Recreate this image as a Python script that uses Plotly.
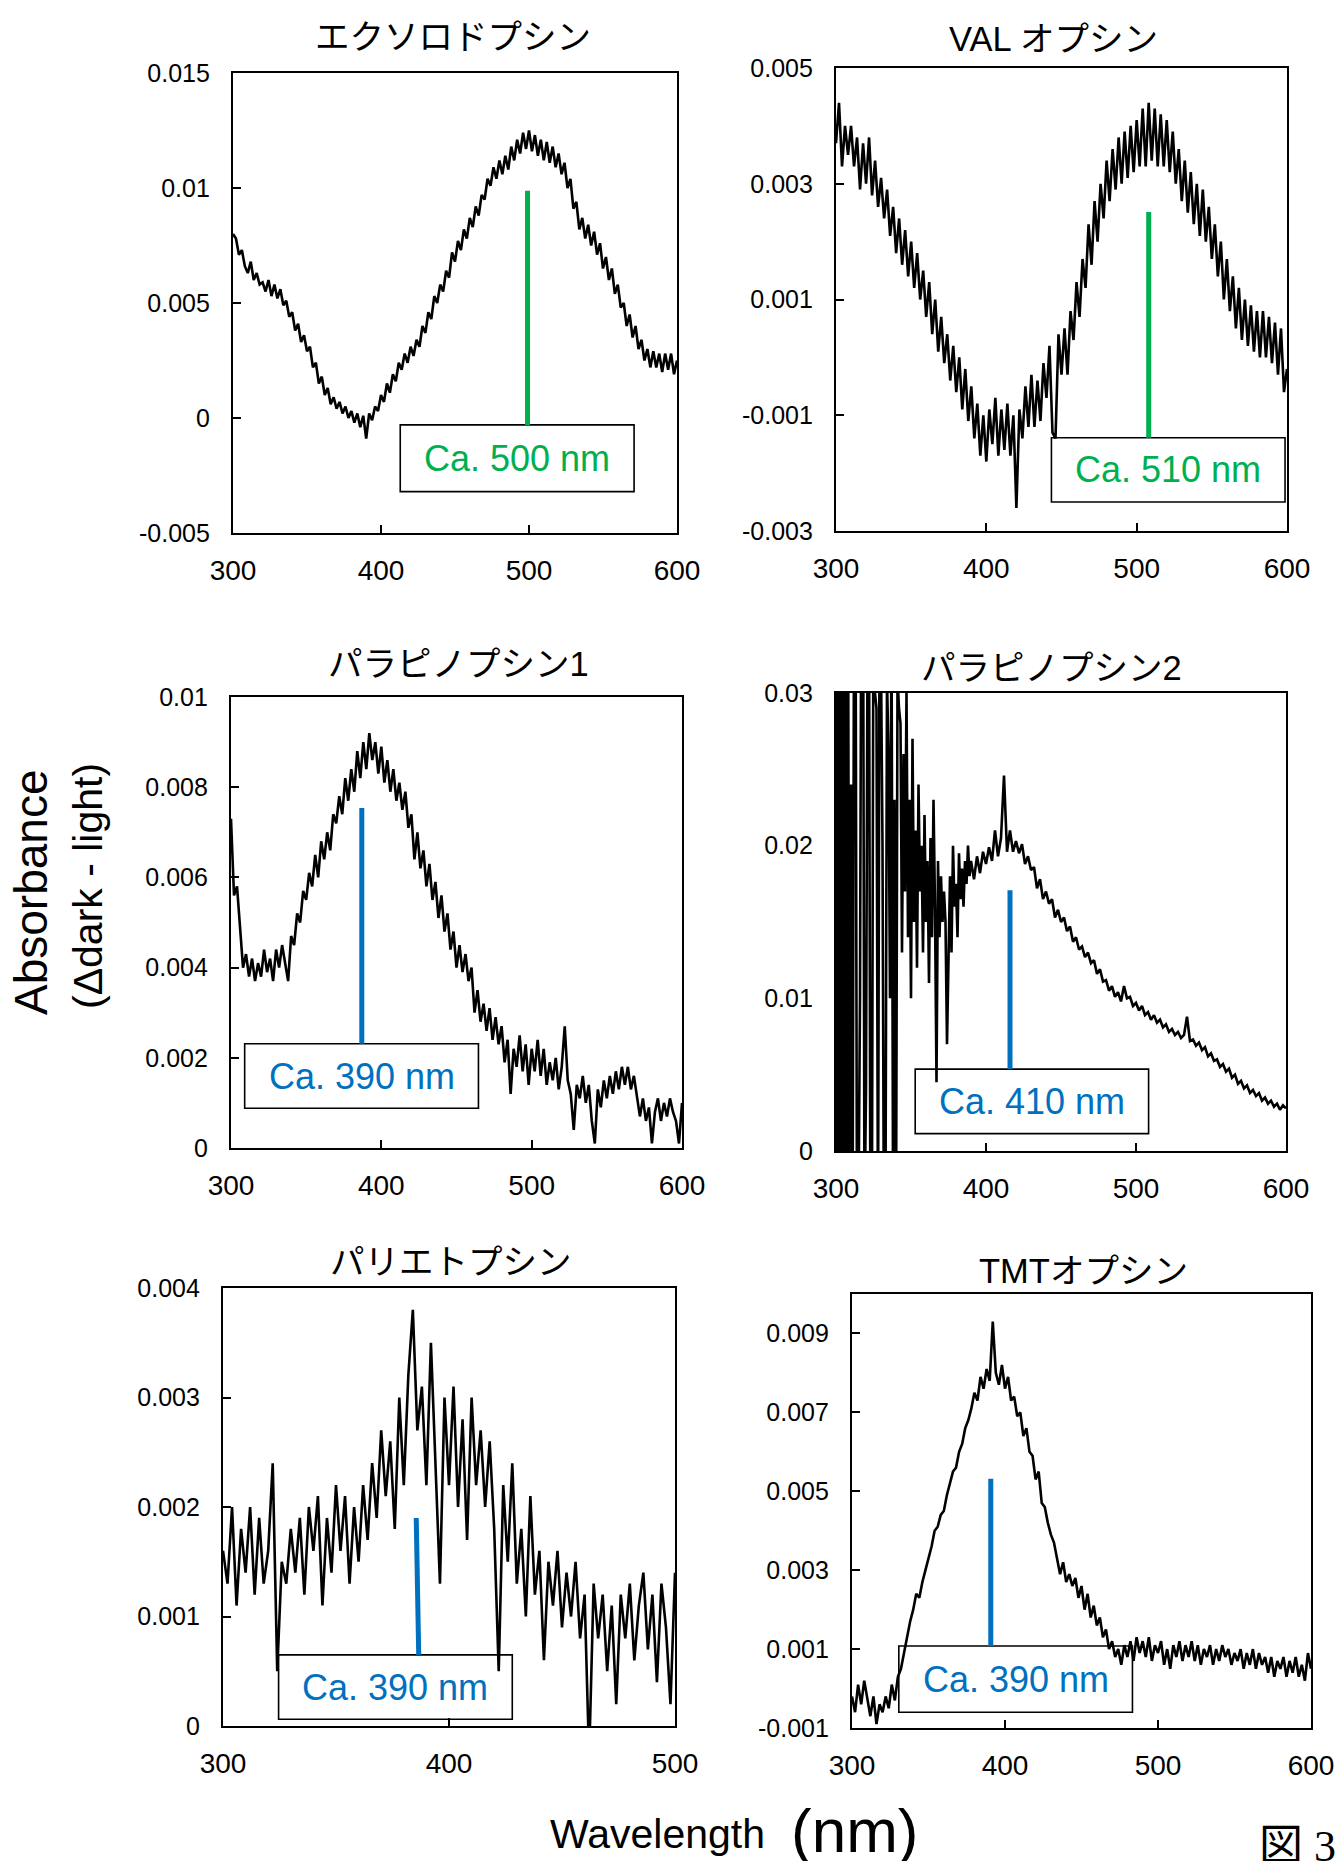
import plotly.graph_objects as go

FIG_W, FIG_H = 1338, 1861
ABS_UNIT = 1e-4  # absorbance values below are given in units of 1e-4

# ---------------- data ----------------
wl_2nm = list(range(300, 601, 2))
wl_para2 = list(range(300, 390)) + list(range(390, 601, 2))
wl_pariet = list(range(300, 501, 2))

exo = [80, 78, 71, 73, 66, 63, 68, 60, 63, 58,
       59, 55, 60, 53, 58, 52, 56, 49, 51, 44,
       46, 38, 41, 33, 36, 29, 31, 22, 24, 15,
       18, 10, 13, 6, 9, 4, 7, 2, 5, 0,
       3, -2, 2, -4, 1, -9, 2, -1, 5, 3,
       10, 7, 15, 11, 19, 16, 24, 21, 28, 24,
       31, 27, 34, 31, 40, 37, 46, 43, 53, 50,
       58, 55, 64, 61, 72, 68, 77, 73, 82, 78,
       87, 83, 92, 88, 97, 95, 104, 101, 109, 104,
       112, 106, 114, 108, 118, 112, 121, 115, 124, 117,
       125, 116, 123, 114, 121, 112, 120, 111, 118, 109,
       115, 106, 111, 100, 104, 91, 94, 82, 87, 78,
       84, 75, 81, 71, 76, 65, 70, 60, 65, 54,
       58, 48, 50, 40, 45, 35, 40, 30, 34, 25,
       30, 22, 29, 22, 28, 20, 28, 21, 28, 19,
       25]

val = [37, 44, 33, 40, 35, 40, 33, 38, 29, 37,
       30, 38, 28, 34, 26, 31, 24, 29, 21, 26,
       18, 24, 16, 22, 14, 20, 12, 18, 10, 15,
       7, 13, 4, 10, 1, 7, -1, 4, -4, 2,
       -6, 0, -9, -2, -11, -5, -14, -8, -17, -10,
       -18, -9, -15, -7, -17, -9, -16, -8, -17, -10,
       -26, -9, -14, -5, -12, -3, -12, -4, -11, -1,
       -7, 2, -13, -14, 4, -3, 5, -3, 8, 3,
       13, 7, 17, 12, 23, 16, 27, 20, 30, 24,
       34, 27, 36, 29, 38, 30, 39, 31, 40, 32,
       41, 33, 43, 33, 44, 34, 43, 33, 42, 33,
       41, 32, 39, 30, 36, 27, 34, 25, 32, 23,
       30, 21, 29, 20, 26, 17, 23, 14, 20, 10,
       17, 8, 14, 5, 12, 3, 10, 2, 9, 1,
       8, 0, 8, 0, 7, -1, 6, -3, 5, -6,
       -2]

para1 = [73, 56, 58, 50, 40, 43, 38, 42, 37, 41,
         38, 44, 39, 42, 37, 44, 40, 45, 41, 37,
         47, 45, 52, 50, 57, 55, 61, 58, 65, 60,
         68, 64, 70, 66, 74, 72, 78, 74, 82, 77,
         84, 79, 88, 82, 90, 84, 92, 86, 90, 83,
         89, 81, 86, 79, 84, 77, 81, 75, 79, 71,
         74, 64, 70, 62, 66, 58, 63, 55, 59, 51,
         56, 48, 52, 44, 48, 40, 45, 39, 43, 37,
         40, 30, 35, 28, 32, 26, 31, 24, 29, 23,
         27, 19, 24, 12, 22, 18, 25, 17, 23, 14,
         22, 17, 24, 16, 22, 14, 19, 15, 20, 13,
         18, 27, 15, 12, 4, 14, 11, 16, 10, 14,
         6, 1, 13, 9, 15, 11, 16, 12, 17, 13,
         18, 14, 18, 13, 16, 12, 7, 11, 6, 9,
         1, 8, 11, 6, 10, 7, 11, 8, 6, 1,
         10]

para2 = [500, -150, 450, -200, 480, -120, 520, -180, 400, -100,
         240, -80, 350, 380, -60, -40, 100, 420, 400, -50,
         40, 330, 360, -90, -20, 380, 300, 290, -60, 340,
         320, 200, -70, -30, 310, 260, 100, 350, -20, 230,
         -60, 310, 290, 280, 130, 260, 170, 300, 140, 230,
         100, 270, 150, 210, 120, 240, 170, 200, 130, 220,
         150, 190, 110, 205, 140, 230, 160, 45, 190, 140,
         180, 150, 170, 150, 70, 140, 180, 130, 200, 160,
         175, 140, 195, 165, 185, 160, 190, 175, 200, 180,
         190, 178, 193, 182, 196, 188, 199, 190, 210, 193,
         205, 246, 196, 210, 196, 203, 195, 201, 188, 193,
         184, 186, 172, 178, 165, 170, 162, 165, 153, 158,
         150, 153, 144, 147, 137, 140, 132, 134, 127, 130,
         123, 125, 116, 119, 111, 112, 105, 108, 101, 104,
         98, 108, 100, 101, 95, 97, 92, 95, 89, 91,
         86, 89, 84, 86, 81, 83, 78, 80, 76, 78,
         74, 76, 88, 72, 73, 69, 71, 66, 68, 62,
         64, 59, 60, 55, 57, 52, 54, 48, 50, 44,
         46, 41, 43, 38, 40, 36, 38, 33, 35, 31,
         33, 29, 31, 27, 30,
         28]

pariet = [16, 13, 20, 11, 18, 14, 20, 12, 19, 13,
          16, 24, 5, 15, 13, 18, 14, 19, 12, 20,
          16, 21, 11, 19, 14, 22, 16, 21, 13, 20,
          15, 22, 17, 24, 19, 27, 21, 26, 18, 30,
          22, 32, 38, 27, 31, 22, 35, 24, 13, 30,
          22, 31, 20, 28, 17, 30, 22, 27, 20, 26,
          18, 5, 22, 15, 24, 13, 18, 10, 21, 12,
          16, 6, 15, 11, 16, 9, 14, 10, 15, 8,
          12, -3, 13, 8, 12, 5, 11, 2, 12, 8,
          13, 6, 11, 14, 7, 12, 4, 13, 9, 2,
          14]

tmt = [-2, -6, 1, -4, 2, -3, -7, -2, -9, -4,
       -6, -2, -5, 1, -3, 3, 5, 9, 13, 17,
       20, 24, 23, 27, 30, 33, 36, 40, 41, 44,
       45, 49, 52, 55, 56, 60, 62, 66, 68, 71,
       75, 73, 79, 76, 81, 78, 93, 80, 77, 82,
       76, 79, 73, 74, 69, 70, 64, 66, 60, 59,
       53, 55, 47, 46, 42, 39, 37, 33, 29, 32,
       27, 29, 26, 28, 23, 26, 20, 24, 18, 21,
       16, 18, 13, 15, 10, 12, 8, 10, 6, 11,
       8, 12, 7, 13, 9, 12, 8, 13, 7, 11,
       9, 12, 6, 10, 5, 11, 8, 12, 7, 11,
       8, 12, 7, 11, 6, 10, 8, 11, 6, 10,
       7, 11, 8, 10, 6, 9, 7, 10, 5, 9,
       6, 10, 5, 9, 6, 8, 4, 8, 3, 7,
       5, 8, 3, 7, 4, 8, 3, 6, 2, 9,
       5]

titles = ["エクソロドプシン", "VAL オプシン", "パラピノプシン1",
          "パラピノプシン2", "パリエトプシン", "TMTオプシン"]
peak_labels = ["Ca. 500 nm", "Ca. 510 nm", "Ca. 390 nm",
               "Ca. 410 nm", "Ca. 390 nm", "Ca. 390 nm"]
# peak marker lines: wavelength (nm) at top/bottom, absorbance at top/bottom
peak_x_top = [499, 508, 387, 416, 385.5, 390.7]
peak_x_bottom = [499, 508, 387, 416, 386.6, 390.7]
peak_y_top = [0.00988, 0.00251, 0.00754, 0.01708, 0.0019, 0.00532]
peak_y_bottom = [-0.00031, -0.00139, 0.00231, 0.00536, 0.00065, 0.00108]

x_tickvals = [[300, 400, 500, 600]] * 4 + [[300, 400, 500], [300, 400, 500, 600]]
x_ticktext = [[str(v) for v in t] for t in x_tickvals]
y_tickvals = [[-0.005, 0, 0.005, 0.01, 0.015],
              [-0.003, -0.001, 0.001, 0.003, 0.005],
              [0, 0.002, 0.004, 0.006, 0.008, 0.01],
              [0, 0.01, 0.02, 0.03],
              [0, 0.001, 0.002, 0.003, 0.004],
              [-0.001, 0.001, 0.003, 0.005, 0.007, 0.009]]
y_ticktext = [["-0.005", "0", "0.005", "0.01", "0.015"],
              ["-0.003", "-0.001", "0.001", "0.003", "0.005"],
              ["0", "0.002", "0.004", "0.006", "0.008", "0.01"],
              ["0", "0.01", "0.02", "0.03"],
              ["0", "0.001", "0.002", "0.003", "0.004"],
              ["-0.001", "0.001", "0.003", "0.005", "0.007", "0.009"]]

series_x = [wl_2nm, wl_2nm, wl_2nm, wl_para2, wl_pariet, wl_2nm]
series_y = [exo, val, para1, para2, pariet, tmt]

# ---------------- layout (pixel positions in the 1338x1861 page) ----------------
GREEN, BLUE = "#00B050", "#0070C0"
panels = [
    dict(px=(233, 677), py=(73, 533), xr=[300, 600], yr=[-0.005, 0.015], tc=(453, 37),
         box=(413, 571, -0.0032, -0.0003), col=GREEN),
    dict(px=(836, 1287), py=(68, 531), xr=[300, 600], yr=[-0.003, 0.005], tc=(1053, 39),
         box=(443.3, 598.7, -0.0025, -0.00139), col=GREEN),
    dict(px=(231, 682), py=(697, 1148), xr=[300, 600], yr=[0, 0.01], tc=(458, 664),
         box=(309.1, 464.6, 0.00088, 0.00231), col=BLUE),
    dict(px=(836, 1286), py=(693, 1151), xr=[300, 600], yr=[0, 0.03], tc=(1051, 668),
         box=(352.8, 508.4, 0.00114, 0.00536), col=BLUE),
    dict(px=(223, 675), py=(1288, 1726), xr=[300, 500], yr=[0, 0.004], tc=(451, 1262),
         box=(324.6, 428, 0.0000615, 0.00065), col=BLUE),
    dict(px=(852, 1311), py=(1294, 1728), xr=[300, 600], yr=[-0.001, 0.010], tc=(1083, 1271),
         box=(330.6, 483.3, -0.0006, 0.00108), col=BLUE),
]

LAT = "Liberation Sans, Arial, Noto Sans CJK JP, sans-serif"
JP = "Liberation Sans, Noto Sans CJK JP, sans-serif"

def px2x(p):
    return p / FIG_W

def py2y(p):
    return 1 - p / FIG_H

fig = go.Figure()
layout = dict(width=FIG_W, height=FIG_H,
              margin=dict(l=0, r=0, t=0, b=0, pad=0, autoexpand=False),
              paper_bgcolor="white", plot_bgcolor="white", showlegend=False,
              shapes=[], annotations=[])

for i, p in enumerate(panels):
    n = "" if i == 0 else str(i + 1)
    xa, ya = "x" + n, "y" + n
    layout["xaxis" + n] = dict(
        domain=[px2x(p["px"][0]), px2x(p["px"][1])], range=p["xr"], anchor=ya,
        automargin=False,
        showline=True, linecolor="black", linewidth=2.2, mirror=True,
        ticks="inside", ticklen=8, tickwidth=1.6, tickcolor="black",
        tickvals=x_tickvals[i], ticktext=x_ticktext[i], showgrid=False, zeroline=False,
        tickfont=dict(family=LAT, size=28, color="black"), ticklabelstandoff=11)
    layout["yaxis" + n] = dict(
        domain=[py2y(p["py"][1]), py2y(p["py"][0])], range=p["yr"], anchor=xa,
        automargin=False,
        showline=True, linecolor="black", linewidth=2.2, mirror=True,
        ticks="inside", ticklen=8, tickwidth=1.6, tickcolor="black",
        tickvals=y_tickvals[i], ticktext=y_ticktext[i], showgrid=False, zeroline=False,
        tickfont=dict(family=LAT, size=25, color="black"), ticklabelstandoff=16)

    fig.add_trace(go.Scatter(x=series_x[i], y=[v * ABS_UNIT for v in series_y[i]],
                             mode="lines", line=dict(color="black", width=2.6),
                             xaxis=xa, yaxis=ya, hoverinfo="skip"))
    fig.add_trace(go.Scatter(x=[peak_x_top[i], peak_x_bottom[i]],
                             y=[peak_y_top[i], peak_y_bottom[i]],
                             mode="lines", line=dict(color=p["col"], width=5),
                             xaxis=xa, yaxis=ya, hoverinfo="skip"))

    bx0, bx1, by0, by1 = p["box"]
    layout["shapes"].append(dict(type="rect", xref=xa, yref=ya, x0=bx0, x1=bx1, y0=by0, y1=by1,
                                 line=dict(color="black", width=1.6), fillcolor="rgba(0,0,0,0)",
                                 layer="below"))
    layout["annotations"].append(dict(
        x=(bx0 + bx1) / 2, y=(by0 + by1) / 2, xref=xa, yref=ya, text=peak_labels[i],
        showarrow=False, xanchor="center", yanchor="middle",
        font=dict(family=LAT, size=36, color=p["col"])))
    layout["annotations"].append(dict(
        x=px2x(p["tc"][0]), y=py2y(p["tc"][1]), xref="paper", yref="paper", text=titles[i],
        showarrow=False, xanchor="center", yanchor="middle",
        font=dict(family=JP, size=34.5, color="black")))

# axis titles and figure label
layout["annotations"] += [
    dict(x=px2x(31), y=py2y(892), xref="paper", yref="paper", text="Absorbance",
         textangle=-90, showarrow=False, xanchor="center", yanchor="middle",
         font=dict(family=LAT, size=46, color="black")),
    dict(x=px2x(88), y=py2y(886), xref="paper", yref="paper", text="(Δdark - light)",
         textangle=-90, showarrow=False, xanchor="center", yanchor="middle",
         font=dict(family=LAT, size=41, color="black")),
    dict(x=px2x(548), y=py2y(1834), xref="paper", yref="paper", text="Wavelength",
         showarrow=False, xanchor="left", yanchor="middle",
         font=dict(family=LAT, size=41, color="black")),
    dict(x=px2x(789), y=py2y(1830), xref="paper", yref="paper", text="(nm)",
         showarrow=False, xanchor="left", yanchor="middle",
         font=dict(family=LAT, size=62, color="black")),
    dict(x=px2x(1257), y=py2y(1820), xref="paper", yref="paper", text="図 3",
         showarrow=False, xanchor="left", yanchor="top",
         font=dict(family="Liberation Serif, Noto Sans CJK JP, serif", size=44, color="black")),
]

fig.update_layout(**layout)
fig.write_html("out.html")
